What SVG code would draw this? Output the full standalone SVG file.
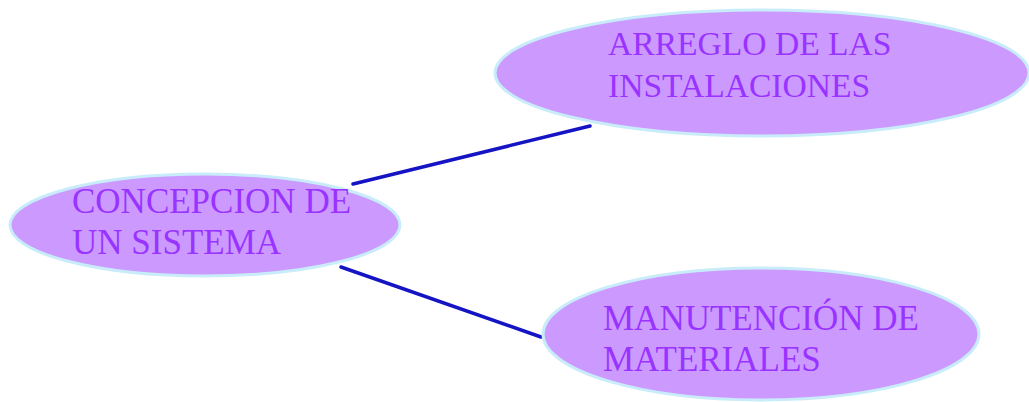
<svg xmlns="http://www.w3.org/2000/svg" width="1029" height="402" viewBox="0 0 1029 402">
  <style>
    .bubble { fill: #cc99ff; stroke: #c8ecfa; stroke-width: 3; }
    .label { font-family: "Liberation Serif", "Times New Roman", serif; font-size: 35px; fill: #9933ff; }
    .small { font-size: 33.6px; }
    .link { stroke: #1414c4; stroke-width: 3.5; fill: none; stroke-linecap: round; }
  </style>
  <rect width="1029" height="402" fill="#ffffff"/>
  <g id="connectors">
    <path class="link" d="M353,184 L590,126"/>
    <path class="link" d="M341,267 L541,337"/>
  </g>
  <g id="concepcion">
    <ellipse class="bubble" cx="205" cy="225" rx="195" ry="51"/>
    <text class="label" x="72" y="213">CONCEPCION DE</text>
    <text class="label" x="72" y="254">UN SISTEMA</text>
  </g>
  <g id="arreglo">
    <ellipse class="bubble" cx="762" cy="73" rx="267" ry="63"/>
    <text class="label small" x="608" y="55">ARREGLO DE LAS</text>
    <text class="label small" x="608" y="97">INSTALACIONES</text>
  </g>
  <g id="manutencion">
    <ellipse class="bubble" cx="761" cy="334" rx="218" ry="66"/>
    <text class="label" x="603" y="330">MANUTENCIÓN DE</text>
    <text class="label" x="603" y="371">MATERIALES</text>
  </g>
</svg>
